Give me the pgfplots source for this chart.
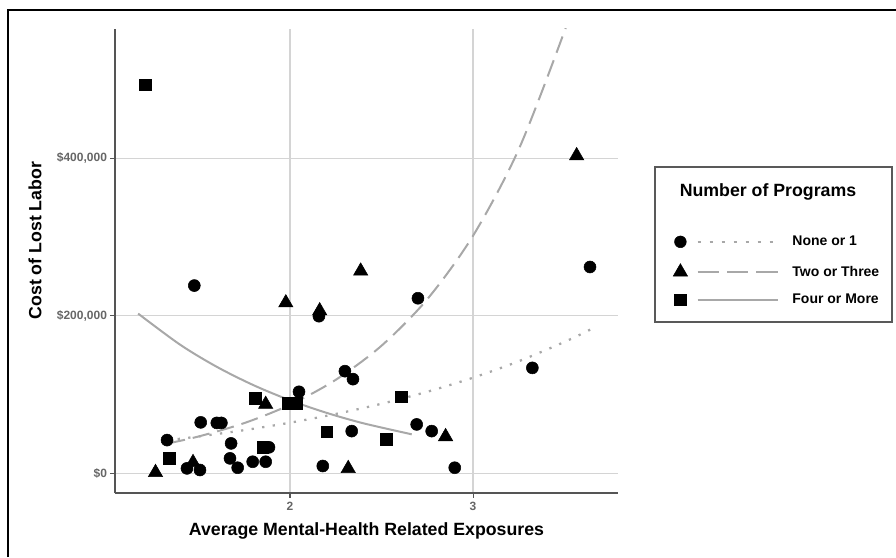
\documentclass[border=0pt]{standalone}
\usepackage{pgfplots}
\pgfplotsset{compat=1.18}
\usepackage{fontspec}
\setmainfont{Liberation Sans}
\definecolor{fitgray}{HTML}{A8A8A8}
\definecolor{dotgray}{HTML}{A8A8A8}
\definecolor{gridgray}{HTML}{D4D4D4}
\definecolor{axgray}{HTML}{555555}
\definecolor{tickgray}{HTML}{666666}
\begin{document}
\begin{tikzpicture}
\useasboundingbox (0,0) rectangle (672pt,-417.75pt);
\draw[black, line width=1pt] (6pt,-417.75pt) -- (6pt,-7.5pt) -- (672pt,-7.5pt);
\begin{axis}[
  at={(86.25pt,-369.75pt)}, anchor=south west,
  scale only axis, width=377.25pt, height=348pt,
  xmin=1.0437, xmax=3.792, ymin=-25000, ymax=564200,
  axis x line=bottom, axis y line=left,
  axis line style={-, draw=axgray, line width=1.4pt},
  xtick={2,3}, xticklabels={2,3},
  ytick={0,200000,400000}, yticklabels={{\$0},{\$200,000},{\$400,000}},
  scaled y ticks=false,
  /pgf/number format/assume math mode=true,
  tick align=outside, major tick length=3.5pt,
  tick style={draw=axgray, line width=0.8pt},
  ticklabel style={font=\bfseries\fontsize{9}{10}\selectfont, text=tickgray},
  yticklabel style={xshift=1pt},
  grid=major, major grid style={draw=gridgray, line width=1pt},
  xlabel={Average Mental-Health Related Exposures},
  ylabel={Cost of Lost Labor},
  label style={font=\bfseries\fontsize{13.3}{16}\selectfont},
  xlabel style={at={(axis description cs:0.5,-0.082)}, anchor=center},
  ylabel style={at={(axis description cs:-0.159,0.544)}, anchor=center},
  legend style={draw=none, fill=none, at={(1.1093,0.5545)}, anchor=north west,
    inner sep=0pt, row sep=12pt,
    nodes={font=\bfseries\fontsize{10.5}{12}\selectfont, inner sep=0pt},
    /tikz/every odd column/.append style={column sep=10pt}},
  legend cell align=left,
]
% fit curves
\addplot[dotgray, line width=1.7pt, dash pattern=on 1.7pt off 6.3pt, smooth, forget plot] coordinates {
(1.328,41900) (1.5,46780) (1.75,54830) (2.0,64290) (2.25,75370) (2.5,88350)
(2.75,103580) (3.0,121430) (3.25,142350) (3.5,166880) (3.645,183000)};
\addplot[fitgray, line width=1.5pt, dash pattern=on 13pt off 6pt, smooth, forget plot] coordinates {
(1.333,37990) (1.5,46750) (1.75,63790) (2.0,87050) (2.25,118760) (2.5,162050)
(2.75,221120) (3.0,301690) (3.25,411630) (3.5,561650) (3.566,610000)};
\addplot[fitgray, line width=1.5pt, smooth, forget plot] coordinates {
(1.17,202810) (1.4,163260) (1.6,135210) (1.8,111970) (2.0,92720) (2.2,76780)
(2.4,63580) (2.665,49530)};
% None or 1
\addplot[only marks, mark=*, mark size=4.5pt, draw=black, fill=black, forget plot] coordinates {
(1.328,42200) (1.437,6300) (1.477,238400) (1.508,4200) (1.512,64700)
(1.600,64000) (1.625,64000) (1.672,19000) (1.678,38000) (1.714,7100)
(1.796,14700) (1.867,14700) (1.885,33000) (2.049,103500) (2.158,199500)
(2.179,9300) (2.300,129700) (2.337,53600) (2.344,119600) (2.692,62100)
(2.699,222300) (2.774,53600) (2.900,7100) (3.324,133900) (3.639,262000)};
% Two or Three
\addplot[only marks, mark=triangle*, mark size=6.2pt, draw=black, fill=black, forget plot] coordinates {
(1.265,1000) (1.470,13700) (1.867,87600) (1.977,216500) (2.162,206400)
(2.318,6100) (2.386,256800) (2.850,46600) (3.566,403300)};
% Four or More
\addplot[only marks, mark=square*, mark size=4.3pt, draw=black, fill=black, forget plot] coordinates {
(1.208,493600) (1.340,19000) (1.809,95100) (1.852,33100) (1.989,89000)
(2.033,89000) (2.200,52700) (2.525,43100) (2.607,97100)};
% legend
\addlegendimage{legend image code/.code={
  \draw[black, fill=black] plot[mark=*, mark size=4.4pt] coordinates {(0pt,0pt)};
  \draw[dotgray, line width=2pt, dash pattern=on 2.2pt off 6.8pt] (13pt,0pt) -- (73pt,0pt);}}
\addlegendentry{None or 1}
\addlegendimage{legend image code/.code={
  \draw[black, fill=black] plot[mark=triangle*, mark size=6.2pt] coordinates {(0pt,0pt)};
  \draw[fitgray, line width=1.3pt, dash pattern=on 16pt off 6pt] (13pt,0pt) -- (73pt,0pt);}}
\addlegendentry{Two or Three}
\addlegendimage{legend image code/.code={
  \draw[black, fill=black] plot[mark=square*, mark size=4.3pt] coordinates {(0pt,0pt)};
  \draw[fitgray, line width=1.3pt] (13pt,0pt) -- (73pt,0pt);}}
\addlegendentry{Four or More}
\end{axis}
\draw[gray!70!black, line width=0.9pt] (491.25pt,-125.25pt) rectangle (669pt,-241.5pt);
\node[anchor=base, font=\bfseries\fontsize{13.3}{16}\selectfont] at (576pt,-147pt) {Number of Programs};
\end{tikzpicture}
\end{document}
